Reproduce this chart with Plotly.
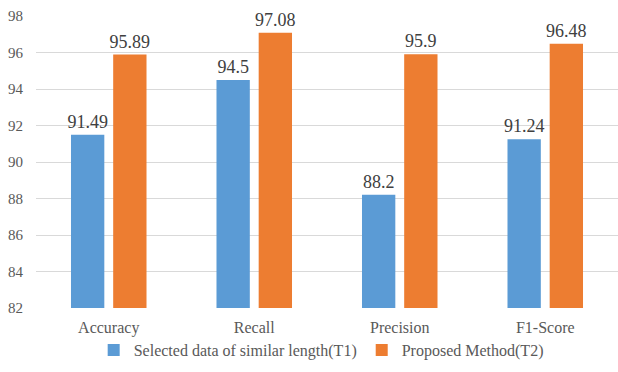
import plotly.graph_objects as go

categories = ["Accuracy", "Recall", "Precision", "F1-Score"]
t1_values = [91.49, 94.5, 88.2, 91.24]
t2_values = [95.89, 97.08, 95.9, 96.48]
t1_labels = ["91.49", "94.5", "88.2", "91.24"]
t2_labels = ["95.89", "97.08", "95.9", "96.48"]
series_names = ["Selected data of similar length(T1)", "Proposed Method(T2)"]
y_ticks = [82, 84, 86, 88, 90, 92, 94, 96, 98]

FONT = "Liberation Serif"

fig = go.Figure()
fig.add_trace(go.Bar(
    x=categories, y=t1_values, name=series_names[0],
    marker=dict(color="#5B9BD5"),
    text=t1_labels, textposition="outside", cliponaxis=False,
    constraintext="none",
    textfont=dict(family=FONT, size=18, color="#404040"),
))
fig.add_trace(go.Bar(
    x=categories, y=t2_values, name=series_names[1],
    marker=dict(color="#ED7D31"),
    text=t2_labels, textposition="outside", cliponaxis=False,
    constraintext="none",
    textfont=dict(family=FONT, size=18, color="#404040"),
))

fig.update_layout(
    template="none",
    width=618, height=372,
    margin=dict(l=36, r=0, t=16, b=64, autoexpand=False),
    paper_bgcolor="white", plot_bgcolor="white",
    barmode="group", bargap=0.42, bargroupgap=0.21,
    font=dict(family=FONT, color="#595959", size=15),
    showlegend=True,
    legend=dict(
        orientation="h", x=0.49, xanchor="center", y=-0.144, yanchor="middle",
        font=dict(family=FONT, size=16, color="#595959"),
        bgcolor="rgba(0,0,0,0)", traceorder="normal",
    ),
)
fig.update_xaxes(
    showgrid=False, showline=False, zeroline=False, automargin=False,
    tickfont=dict(family=FONT, size=16, color="#595959"),
    ticklabelstandoff=8, ticks="",
)
fig.update_yaxes(
    range=[82, 98], tickvals=y_ticks, automargin=False,
    showgrid=True, gridcolor="#D9D9D9", gridwidth=1,
    zeroline=False, showline=False, ticks="",
    tickfont=dict(family=FONT, size=15, color="#595959"),
    ticklabelstandoff=12,
)

fig.write_html("out.html", config={"displayModeBar": False},
               post_script="document.body.style.margin='0px';")
